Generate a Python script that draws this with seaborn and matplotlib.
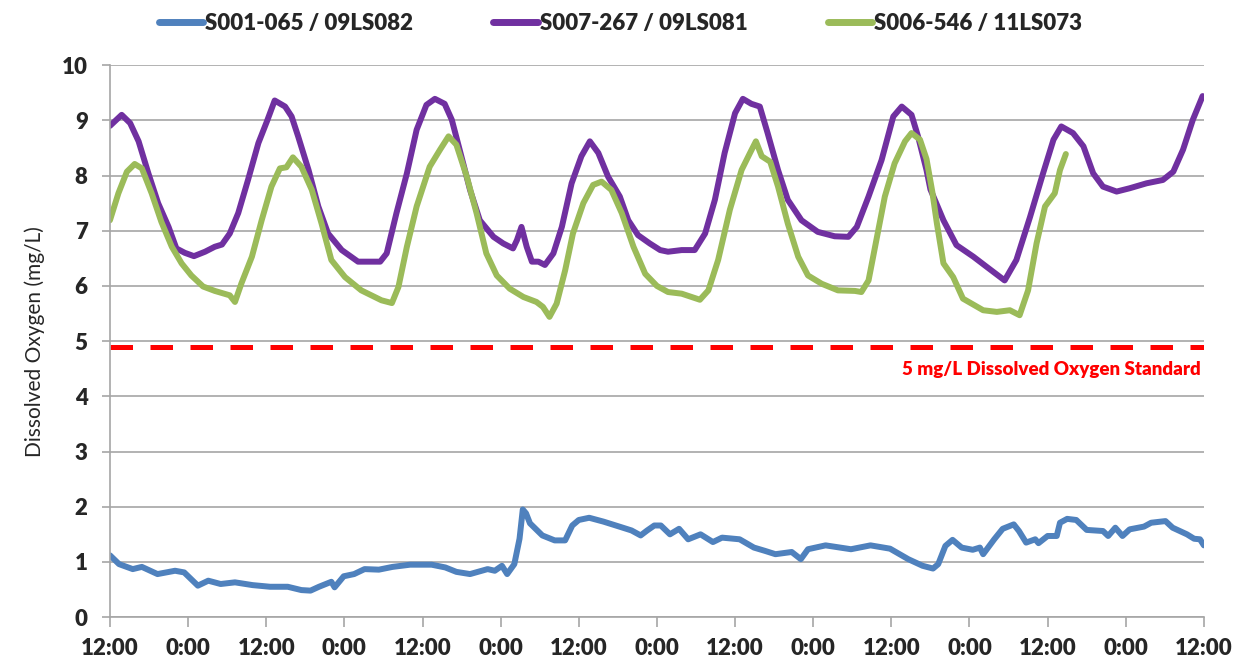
import numpy as np
import pandas as pd
import matplotlib
matplotlib.use("Agg")
import matplotlib.pyplot as plt
import seaborn as sns

# hours since the first 12:00 on the axis
blue_name = "S001-065 / 09LS082"
blue_hours = [0.0, 1.4, 3.5, 4.9, 7.3, 10.0, 11.4, 13.5, 15.1, 17.0, 19.2, 21.9, 24.6, 27.3,
              29.4, 30.8, 32.1, 34.0, 34.5, 35.9, 37.5, 39.1, 41.3, 43.4, 46.1, 49.4, 51.5,
              53.2, 55.3, 58.0, 59.1, 60.2, 61.0, 62.1, 62.9, 63.4, 63.9, 64.5, 66.4, 68.3,
              69.9, 71.0, 72.0, 73.6, 75.8, 78.5, 80.1, 81.5, 82.5, 83.6, 84.6, 86.0, 87.4,
              88.8, 90.7, 92.6, 94.0, 96.7, 98.9, 100.6, 102.2, 104.7, 106.1, 107.2, 109.9,
              113.8, 116.8, 119.8, 122.6, 124.8, 126.4, 127.2, 128.3, 129.4, 130.8, 132.5,
              133.6, 134.1, 135.8, 137.1, 138.8, 139.6, 140.7, 142.1, 142.6, 144.0, 145.4,
              145.9, 147.0, 148.4, 150.0, 152.5, 153.3, 154.4, 155.5, 156.6, 158.8, 159.9,
              162.1, 163.2, 165.4, 166.5, 167.4, 168.0]
blue_do = [1.12, 0.96, 0.87, 0.91, 0.78, 0.84, 0.81, 0.57, 0.66, 0.60, 0.63, 0.58, 0.55, 0.55,
           0.49, 0.48, 0.55, 0.64, 0.54, 0.74, 0.78, 0.87, 0.86, 0.91, 0.95, 0.95, 0.90,
           0.82, 0.78, 0.87, 0.84, 0.93, 0.78, 0.96, 1.42, 1.95, 1.88, 1.70, 1.48, 1.39,
           1.39, 1.66, 1.76, 1.80, 1.73, 1.63, 1.57, 1.48, 1.57, 1.66, 1.66, 1.50, 1.60,
           1.41, 1.50, 1.36, 1.44, 1.41, 1.26, 1.20, 1.14, 1.18, 1.05, 1.23, 1.30,
           1.23, 1.30, 1.24, 1.05, 0.93, 0.88, 0.96, 1.29, 1.40, 1.26, 1.22,
           1.26, 1.14, 1.41, 1.60, 1.68, 1.56, 1.35, 1.41, 1.34, 1.47, 1.47,
           1.71, 1.78, 1.76, 1.58, 1.56, 1.47, 1.62, 1.47, 1.59, 1.64, 1.71,
           1.74, 1.62, 1.50, 1.42, 1.41, 1.30]

purple_name = "S007-267 / 09LS081"
purple_hours = [0.0, 1.8, 3.1, 4.4, 5.9, 7.4, 9.0, 10.2, 11.5, 12.9, 14.6, 16.1, 17.2, 18.4,
                19.7, 21.2, 22.8, 24.1, 25.3, 26.9, 27.9, 28.9, 30.5, 32.0, 33.5, 35.6, 38.1,
                41.5, 42.5, 44.0, 45.6, 47.1, 48.6, 49.9, 51.4, 52.5, 53.7, 55.3, 56.8, 58.9,
                60.4, 61.9, 62.5, 63.2, 64.0, 64.8, 65.8, 66.8, 68.1, 69.4, 70.9, 72.4, 73.7,
                75.0, 76.5, 78.3, 79.6, 81.1, 82.9, 84.5, 85.7, 87.8, 89.8, 91.4, 92.9, 94.4,
                96.0, 97.2, 98.5, 99.8, 101.0, 102.6, 104.1, 106.2, 108.7, 111.3, 113.4, 114.7,
                116.5, 118.5, 120.3, 121.6, 123.1, 124.1, 125.4, 126.0, 128.0, 130.0, 132.6,
                134.6, 137.4, 139.2, 141.3, 143.3, 144.9, 146.1, 147.9, 149.5, 151.0, 152.5,
                154.6, 156.6, 159.2, 161.7, 163.3, 164.8, 166.3, 167.8]
purple_do = [8.90, 9.10, 8.95, 8.62, 8.04, 7.50, 7.07, 6.68, 6.60, 6.54, 6.62, 6.71, 6.75, 6.95,
             7.32, 7.92, 8.59, 8.98, 9.36, 9.25, 9.07, 8.71, 8.10, 7.44, 6.95, 6.65, 6.44,
             6.44, 6.59, 7.32, 8.04, 8.83, 9.28, 9.39, 9.30, 9.01, 8.47, 7.74, 7.19, 6.89,
             6.77, 6.68, 6.83, 7.07, 6.71, 6.44, 6.44, 6.38, 6.59, 7.07, 7.86, 8.35, 8.62,
             8.41, 7.98, 7.62, 7.19, 6.92, 6.77, 6.65, 6.62, 6.65, 6.65, 6.95, 7.56, 8.41,
             9.13, 9.39, 9.30, 9.25, 8.77, 8.10, 7.56, 7.19, 6.98, 6.90, 6.89, 7.07,
             7.62, 8.28, 9.07, 9.25, 9.10, 8.71, 8.10, 7.75, 7.19, 6.74, 6.53,
             6.35, 6.10, 6.47, 7.25, 8.04, 8.65, 8.89, 8.77, 8.53, 8.04, 7.80,
             7.71, 7.77, 7.86, 7.92, 8.07, 8.47, 9.01, 9.44]

green_name = "S006-546 / 11LS073"
green_hours = [0.0, 1.3, 2.6, 3.8, 4.9, 6.4, 7.9, 9.5, 11.0, 12.5, 14.3, 16.1, 18.4, 19.2,
               20.2, 21.8, 23.3, 24.8, 26.1, 27.1, 28.1, 29.4, 31.0, 32.5, 34.0, 36.1, 38.6,
               41.7, 43.3, 44.3, 45.6, 47.1, 49.1, 50.7, 52.0, 53.2, 54.8, 56.3, 57.8, 59.4,
               61.4, 63.5, 65.5, 66.5, 67.5, 68.6, 69.9, 71.1, 72.7, 74.2, 75.5, 77.0, 78.6,
               80.4, 82.2, 84.0, 85.7, 87.8, 90.6, 91.9, 93.4, 95.2, 97.0, 98.3, 99.2, 100.1,
               101.4, 102.6, 104.1, 105.7, 107.2, 109.3, 111.8, 114.4, 115.4, 116.5, 117.7,
               119.0, 120.5, 122.1, 123.1, 124.4, 125.4, 126.3, 127.0, 128.0, 129.5, 131.0,
               134.1, 136.2, 138.2, 139.7, 141.0, 142.3, 143.6, 145.1, 145.9, 146.8]
green_do = [7.19, 7.68, 8.07, 8.21, 8.13, 7.68, 7.16, 6.71, 6.41, 6.19, 5.99, 5.91, 5.83, 5.71,
            6.05, 6.53, 7.19, 7.80, 8.13, 8.15, 8.33, 8.16, 7.74, 7.13, 6.47, 6.16, 5.92,
            5.74, 5.69, 5.98, 6.71, 7.44, 8.16, 8.47, 8.71, 8.56, 7.98, 7.32, 6.59, 6.19,
            5.95, 5.80, 5.71, 5.62, 5.44, 5.68, 6.28, 6.95, 7.50, 7.83, 7.89, 7.74, 7.32,
            6.71, 6.22, 6.00, 5.89, 5.86, 5.75, 5.92, 6.47, 7.38, 8.10, 8.41, 8.62, 8.35,
            8.25, 7.80, 7.13, 6.53, 6.19, 6.04, 5.92, 5.91, 5.89, 6.10, 6.83,
            7.62, 8.22, 8.62, 8.77, 8.65, 8.30, 7.70, 7.13, 6.41, 6.16, 5.77,
            5.56, 5.53, 5.56, 5.47, 5.92, 6.77, 7.44, 7.68, 8.10, 8.39]

standard_do = 4.9
standard_label = "5 mg/L Dissolved Oxygen Standard"
tick_hours = list(range(0, 169, 12))
tick_labels = ["12:00" if i % 2 == 0 else "0:00" for i in range(len(tick_hours))]

df = pd.concat([
    pd.DataFrame({"hour": blue_hours, "do": blue_do, "site": blue_name}),
    pd.DataFrame({"hour": purple_hours, "do": purple_do, "site": purple_name}),
    pd.DataFrame({"hour": green_hours, "do": green_do, "site": green_name}),
])
palette = {blue_name: "#4F81BD", purple_name: "#7030A0", green_name: "#9BBB59"}

sns.set_style("white")
plt.rcParams["font.family"] = ["Lato", "DejaVu Sans"]

fig = plt.figure(figsize=(12.41, 6.65), dpi=100)
ax = fig.add_axes([0.0886, 0.072, 0.8815, 0.830])

sns.lineplot(data=df, x="hour", y="do", hue="site", palette=palette,
             estimator=None, sort=False, linewidth=4.3, ax=ax, legend=True)

ax.axhline(standard_do, color="#FF0000", linewidth=3.6, dashes=(4.5, 3.5), zorder=1)
ax.text(167.5, 4.48, standard_label, color="#FF0000", fontsize=13.5, fontweight="heavy",
        ha="right", va="center")

ax.set_xlim(0, 168)
ax.set_ylim(0, 10)
ax.set_yticks(range(0, 11))
ax.set_xticks(tick_hours)
ax.set_xticklabels(tick_labels)
ax.yaxis.grid(True, color="#A6A6A6", linewidth=1.2)
ax.xaxis.grid(False)
for side in ["top", "right"]:
    ax.spines[side].set_visible(False)
for side in ["left", "bottom"]:
    ax.spines[side].set_color("#A6A6A6")
    ax.spines[side].set_linewidth(1.2)
ax.tick_params(axis="x", bottom=True, length=7, width=1.2, color="#A6A6A6",
               labelsize=16, pad=8)
ax.tick_params(axis="y", left=True, length=6, width=1.2, color="#A6A6A6",
               labelsize=16, pad=10)
for lbl in ax.get_xticklabels() + ax.get_yticklabels():
    lbl.set_fontweight("heavy")
ax.set_xlabel("")
ax.set_ylabel("Dissolved Oxygen (mg/L)", fontsize=15, labelpad=12)

handles, labels = ax.get_legend_handles_labels()
ax.legend_.remove()
leg = fig.legend(handles, labels, loc="center", bbox_to_anchor=(0.5, 0.965), ncol=3,
                 frameon=False, handlelength=2.0, handletextpad=0.1, columnspacing=3.6,
                 prop={"size": 16, "weight": "heavy"})
for line in leg.get_lines():
    line.set_linewidth(5)
    line.set_solid_capstyle("round")

fig.savefig("out.png", dpi=100)
